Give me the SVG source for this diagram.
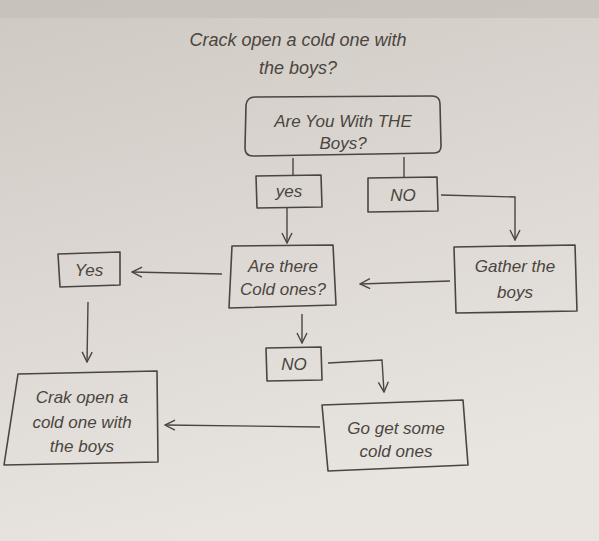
<svg xmlns="http://www.w3.org/2000/svg" width="599" height="541" viewBox="0 0 599 541">
<defs>
<linearGradient id="paper" x1="0" y1="0" x2="0.3" y2="1">
<stop offset="0" stop-color="#cfc9c3"/>
<stop offset="0.5" stop-color="#dcd7d2"/>
<stop offset="1" stop-color="#e8e4df"/>
</linearGradient>
<marker id="ah" viewBox="0 0 12 12" refX="11" refY="6" markerWidth="12" markerHeight="12" markerUnits="userSpaceOnUse" orient="auto">
<path d="M1,1 L11,6 L1,11" fill="none" stroke="#4a4540" stroke-width="1.4"/>
</marker>
</defs>
<style>
.box{fill:none;stroke:#4a4540;stroke-width:1.6;stroke-linejoin:round}
.ln{fill:none;stroke:#4a4540;stroke-width:1.4}
.t{font-family:"Liberation Sans",sans-serif;font-style:italic;font-size:17px;fill:#4a4540;text-anchor:middle}
.tt{font-size:18px}
</style>
<rect x="0" y="0" width="599" height="541" fill="url(#paper)"/>
<rect x="0" y="0" width="599" height="18" fill="#c3bdb7" opacity="0.6"/>
<g id="title">
<text class="t tt" x="298" y="46">Crack open a cold one with</text>
<text class="t tt" x="298" y="74">the boys?</text>
</g>
<g id="n1">
<path class="box" d="M255,97 L432,96 Q440,96 440,104 L441,146 Q441,153 434,153 L253,156 Q245,156 245,148 L246,105 Q247,97 255,97 Z"/>
<text class="t" x="343" y="127">Are You With THE</text>
<text class="t" x="343" y="149">Boys?</text>
</g>
<g id="n2">
<path class="box" d="M256,176 L321,175 L322,207 L257,208 Z"/>
<text class="t" x="289" y="197">yes</text>
</g>
<g id="n3">
<path class="box" d="M368,178 L437,177 L438,211 L368,212 Z"/>
<text class="t" x="403" y="201">NO</text>
</g>
<g id="n4">
<path class="box" d="M232,246 L333,245 L336,305 L229,308 Z"/>
<text class="t" x="283" y="272">Are there</text>
<text class="t" x="283" y="295">Cold ones?</text>
</g>
<g id="n5">
<path class="box" d="M454,247 L575,245 L577,311 L456,313 Z"/>
<text class="t" x="515" y="272">Gather the</text>
<text class="t" x="515" y="298">boys</text>
</g>
<g id="n6">
<path class="box" d="M58,254 L120,252 L120,285 L60,287 Z"/>
<text class="t" x="89" y="276">Yes</text>
</g>
<g id="n7">
<path class="box" d="M266,348 L321,347 L322,380 L267,381 Z"/>
<text class="t" x="294" y="370">NO</text>
</g>
<g id="n8">
<path class="box" d="M18,374 L157,371 L158,462 L4,465 Z"/>
<text class="t" x="82" y="403">Crak open a</text>
<text class="t" x="82" y="428">cold one with</text>
<text class="t" x="82" y="452">the boys</text>
</g>
<g id="n9">
<path class="box" d="M322,405 L463,400 L468,465 L328,471 Z"/>
<text class="t" x="396" y="434">Go get some</text>
<text class="t" x="396" y="457">cold ones</text>
</g>
<g id="connectors">
<path class="ln" d="M293,158 L293,175"/>
<path class="ln" d="M404,157 L404,178"/>
<path class="ln" marker-end="url(#ah)" d="M287,208 L287,243"/>
<path class="ln" marker-end="url(#ah)" d="M441,195 L515,197 L515,240"/>
<path class="ln" marker-end="url(#ah)" d="M450,281 L360,284"/>
<path class="ln" marker-end="url(#ah)" d="M222,274 L132,272"/>
<path class="ln" marker-end="url(#ah)" d="M88,302 L87,362"/>
<path class="ln" marker-end="url(#ah)" d="M302,314 L302,343"/>
<path class="ln" marker-end="url(#ah)" d="M328,363 L382,360 L384,392"/>
<path class="ln" marker-end="url(#ah)" d="M320,427 L165,425"/>
</g>
</svg>
